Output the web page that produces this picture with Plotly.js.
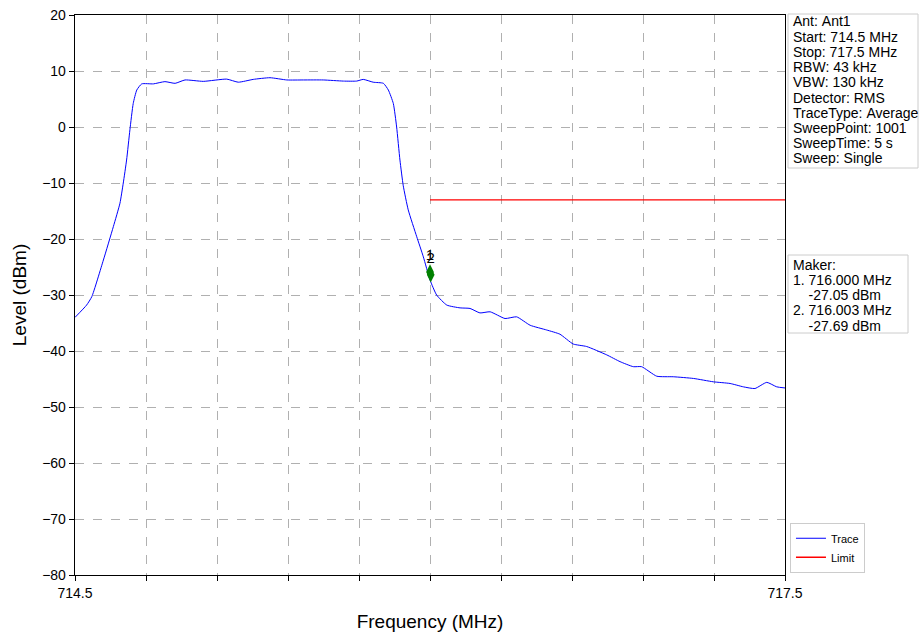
<!DOCTYPE html>
<html><head><meta charset="utf-8">
<script src="https://cdn.plot.ly/plotly-3.0.1.min.js"></script>
<style>body{margin:0;background:#fff}#c{width:920px;height:635px}</style>
</head><body><div id="c"></div>
<script>
const freq = [714.5,714.549,714.571,714.620,714.662,714.690,714.704,714.718,714.732,714.746,714.761,714.782,714.831,714.880,714.923,714.965,715.042,715.141,715.190,715.253,715.324,715.395,715.465,715.549,715.634,715.690,715.718,715.760,715.803,715.824,715.845,715.859,715.873,715.887,715.908,715.944,715.972,716.000,716.028,716.071,716.127,716.169,716.211,716.254,716.317,716.366,716.423,716.493,716.549,716.605,716.662,716.747,716.803,716.859,716.894,716.958,717.028,717.113,717.197,717.268,717.324,717.373,717.423,717.465,717.5];
const level = [-34.0,-31.8,-30.3,-23.75,-17.8,-13.6,-10.0,-5.9,-0.5,4.2,6.6,7.7,7.7,8.1,7.8,8.4,8.15,8.55,8.0,8.5,8.8,8.4,8.4,8.4,8.2,8.2,8.5,8.0,7.8,6.6,4.2,0.0,-5.9,-10.5,-14.8,-19.6,-23.2,-27.3,-30.0,-31.8,-32.3,-32.4,-33.2,-33.0,-34.2,-33.9,-35.4,-36.25,-37.0,-38.75,-39.2,-40.7,-41.9,-42.8,-42.8,-44.5,-44.6,-44.9,-45.5,-45.8,-46.4,-46.7,-45.6,-46.4,-46.6];
const limitFreq = [716.0, 717.5];
const limitLevel = [-13, -13];
const markerFreq = [716.000, 716.003];
const markerLevel = [-25.9, -26.4];
const markerLabels = ['1','2'];
const xTickVals = [714.5,714.8,715.1,715.4,715.7,716.0,716.3,716.6,716.9,717.2,717.5];
const xTickText = ['714.5','','','','','','','','','','717.5'];
const infoLines = ['Ant: Ant1','Start: 714.5 MHz','Stop: 717.5 MHz','RBW: 43 kHz','VBW: 130 kHz','Detector: RMS','TraceType: Average','SweepPoint: 1001','SweepTime: 5 s','Sweep: Single'];
const makerLines = ['Maker:','1. 716.000 MHz','    -27.05 dBm','2. 716.003 MHz','    -27.69 dBm'];

const font = 'Liberation Sans, Arial, sans-serif';
const traces = [
  {x: freq, y: level, mode: 'lines', name: 'Trace', line: {color: '#0000ff', width: 1, shape: 'spline', smoothing: 0.5}},
  {x: limitFreq, y: limitLevel, mode: 'lines', name: 'Limit', line: {color: '#ff0000', width: 1.3}},
  {x: markerFreq, y: markerLevel, mode: 'markers+text', text: markerLabels, textposition: 'top center',
   textfont: {family: font, size: 15, color: '#000'},
   marker: {symbol: 'diamond-tall', color: '#008000', size: 11}, showlegend: false, cliponaxis: false}
];

const PW = 710, PH = 560, PL = 75, PT = 15;
const px2x = p => (p - PL) / PW;
const py2y = p => (PT + PH - p) / PH;
function textBox(lines, left, top, right, bottom, firstY, step) {
  const shapes = [{type: 'rect', xref: 'paper', yref: 'paper', x0: px2x(left), x1: px2x(right), y0: py2y(bottom), y1: py2y(top),
                   line: {color: '#cccccc', width: 1}, fillcolor: '#fff', layer: 'above'}];
  const anns = lines.map((t, i) => ({xref: 'paper', yref: 'paper', x: px2x(left + 3), y: py2y(firstY + i * step),
    xanchor: 'left', yanchor: 'middle', align: 'left', showarrow: false,
    text: t.replace(/ /g, '&nbsp;'), font: {size: 14, family: font, color: '#000'}}));
  return {shapes, anns};
}
const b1 = textBox(infoLines, 788, 14, 918, 168, 21.5, 15.2);
const b2 = textBox(makerLines, 788, 255, 908, 333, 264.5, 15.3);

const layout = {
  width: 920, height: 635,
  margin: {l: 75, r: 135, t: 15, b: 60},
  paper_bgcolor: '#fff', plot_bgcolor: '#fff',
  font: {family: font, size: 14, color: '#000'},
  showlegend: true,
  legend: {x: 1.007, xanchor: 'left', y: 0.004, yanchor: 'bottom', bordercolor: '#cccccc', borderwidth: 1,
           font: {size: 11}, tracegroupgap: 0, itemwidth: 30},
  xaxis: {range: [714.5, 717.5], tickmode: 'array', tickvals: xTickVals, ticktext: xTickText,
          showgrid: true, gridcolor: '#b0b0b0', griddash: 'dash', gridwidth: 1,
          showline: true, linecolor: '#000', linewidth: 1.3, mirror: true, ticks: 'outside', ticklen: 5, tickcolor: '#000',
          zeroline: false, title: {text: 'Frequency (MHz)', font: {size: 19}, standoff: 14}},
  yaxis: {range: [-80, 20], tickmode: 'linear', tick0: -80, dtick: 10,
          showgrid: true, gridcolor: '#b0b0b0', griddash: 'dash', gridwidth: 1,
          showline: true, linecolor: '#000', linewidth: 1.3, mirror: true, ticks: 'outside', ticklen: 5, tickcolor: '#000',
          zeroline: false, title: {text: 'Level (dBm)', font: {size: 19}, standoff: 10}},
  shapes: [...b1.shapes, ...b2.shapes],
  annotations: [...b1.anns, ...b2.anns]
};
Plotly.newPlot('c', traces, layout, {displayModeBar: false, staticPlot: true});
</script></body></html>
